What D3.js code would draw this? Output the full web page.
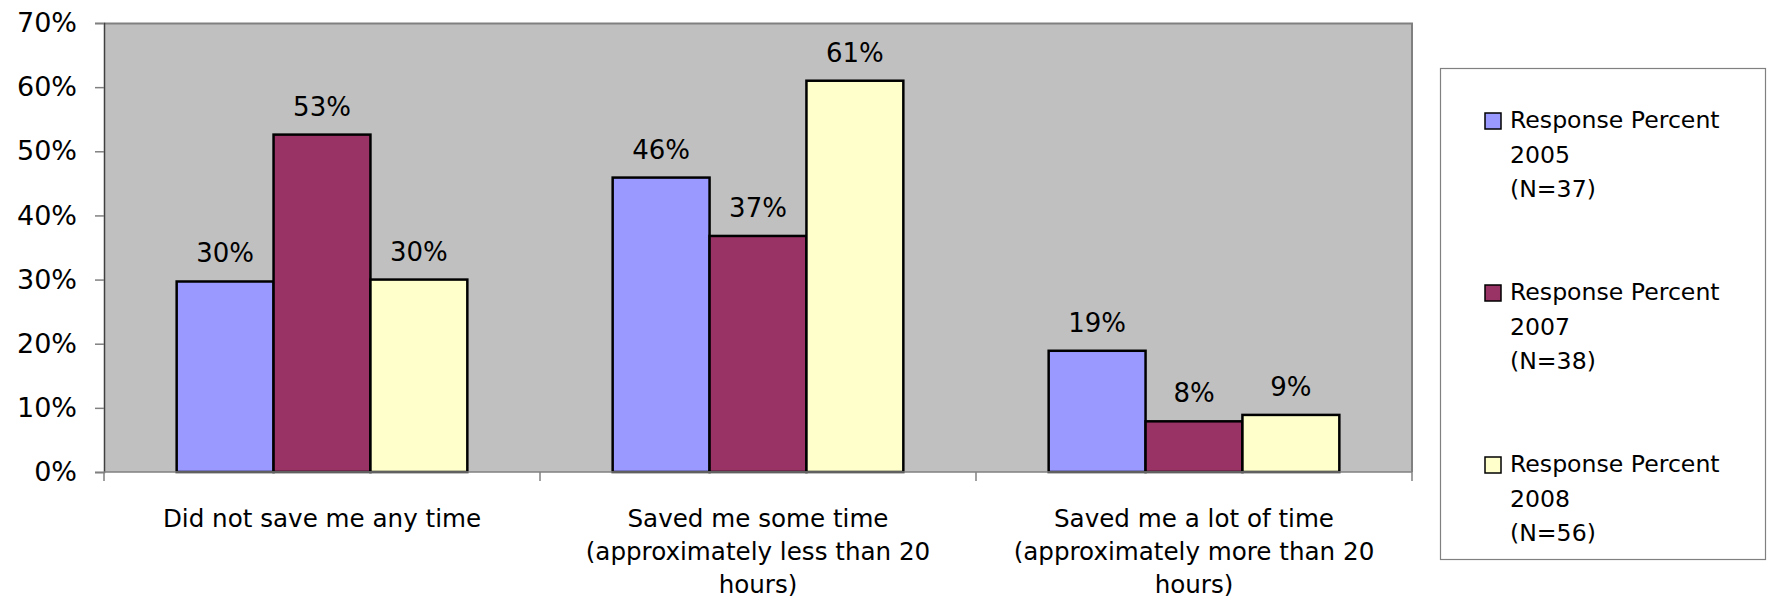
<!DOCTYPE html>
<html>
<head>
<meta charset="utf-8">
<script src="https://cdn.jsdelivr.net/npm/d3@7"></script>
<style>
  html, body { margin: 0; padding: 0; background: #ffffff; }
  svg { display: block; }
  text { font-family: "DejaVu Sans", sans-serif; fill: #000; }
</style>
</head>
<body>
<svg id="chart" width="1767" height="600"></svg>
<script>
// Category labels, one entry per line as they wrap under the axis
const categories = [
  ["Did not save me any time"],
  ["Saved me some time", "(approximately less than 20", "hours)"],
  ["Saved me a lot of time", "(approximately more than 20", "hours)"]
];

// Series names (legend lines) and colours
const seriesNames = [
  ["Response Percent", "2005", "(N=37)"],
  ["Response Percent", "2007", "(N=38)"],
  ["Response Percent", "2008", "(N=56)"]
];
const seriesColors = ["#9999FF", "#993366", "#FFFFCC"];

// Response shares per category, one array per survey year
const values2005 = [0.297, 0.459, 0.189];
const values2007 = [0.526, 0.368, 0.079];
const values2008 = [0.300, 0.610, 0.089];
const seriesValues = [values2005, values2007, values2008];

// Y axis tick values
const yTicks = [0, 0.1, 0.2, 0.3, 0.4, 0.5, 0.6, 0.7];

const svg = d3.select("#chart");
const plot = { left: 104, right: 1412, top: 23, bottom: 472 };

const y = d3.scaleLinear().domain([0, 0.7]).range([plot.bottom, plot.top]);
const x0 = d3.scaleBand()
  .domain(d3.range(categories.length))
  .range([plot.left, plot.right])
  .paddingInner(0).paddingOuter(0);
const bw = x0.bandwidth();
const x1 = d3.scaleBand()
  .domain(d3.range(seriesValues.length))
  .range([bw / 6, bw * 5 / 6])
  .padding(0);

const pct = d3.format(".0%");

// Plot area background
svg.append("rect")
  .attr("x", plot.left).attr("y", plot.top)
  .attr("width", plot.right - plot.left)
  .attr("height", plot.bottom - plot.top)
  .attr("fill", "#C0C0C0");
// Top and right border of the plot area
svg.append("path")
  .attr("d", `M${plot.left},${plot.top + 0.5}H${plot.right}V${plot.bottom}`)
  .attr("fill", "none").attr("stroke", "#808080").attr("stroke-width", 2);

// Y axis
const yAxis = svg.append("g")
  .attr("transform", `translate(${plot.left},0)`)
  .call(d3.axisLeft(y).tickValues(yTicks).tickFormat(pct).tickSize(9).tickPadding(18));
yAxis.select(".domain").attr("stroke", "#404040").attr("stroke-width", 1.5);
yAxis.selectAll(".tick line").attr("stroke", "#808080").attr("stroke-width", 1.5);
yAxis.selectAll(".tick text")
  .attr("font-family", "DejaVu Sans, sans-serif")
  .attr("font-size", 27)
  .attr("fill", "#000");

// Bars
const groups = svg.append("g").selectAll("g")
  .data(categories.map((c, i) => i))
  .join("g")
  .attr("transform", i => `translate(${x0(i)},0)`);

groups.selectAll("rect")
  .data(i => seriesValues.map((vals, s) => ({ s, v: vals[i] })))
  .join("rect")
  .attr("x", d => x1(d.s))
  .attr("y", d => y(d.v))
  .attr("width", x1.bandwidth())
  .attr("height", d => y(0) - y(d.v))
  .attr("fill", d => seriesColors[d.s])
  .attr("stroke", "#000")
  .attr("stroke-width", 2.5);

// Value labels above bars
groups.selectAll("text.val")
  .data(i => seriesValues.map((vals, s) => ({ s, v: vals[i] })))
  .join("text")
  .attr("class", "val")
  .attr("x", d => x1(d.s) + x1.bandwidth() / 2)
  .attr("y", d => y(d.v) - 19)
  .attr("text-anchor", "middle")
  .attr("font-size", 26)
  .text(d => pct(d.v));

// X axis line and category boundary ticks
svg.append("line")
  .attr("x1", plot.left).attr("x2", plot.right)
  .attr("y1", plot.bottom).attr("y2", plot.bottom)
  .attr("stroke", "#808080").attr("stroke-width", 1.5);
const bounds = d3.range(categories.length).map(i => x0(i)).concat([plot.right]);
svg.append("g").selectAll("line")
  .data(bounds)
  .join("line")
  .attr("x1", d => d).attr("x2", d => d)
  .attr("y1", plot.bottom).attr("y2", plot.bottom + 9)
  .attr("stroke", "#808080").attr("stroke-width", 1.5);

// Category labels
const catLabels = svg.append("g").selectAll("text")
  .data(categories)
  .join("text")
  .attr("x", (d, i) => x0(i) + bw / 2)
  .attr("y", 527)
  .attr("text-anchor", "middle")
  .attr("font-size", 24.6);
catLabels.selectAll("tspan")
  .data(d => d)
  .join("tspan")
  .attr("x", function () { return d3.select(this.parentNode).attr("x"); })
  .attr("dy", (d, j) => j === 0 ? 0 : 33)
  .text(d => d);

// Legend
const legend = svg.append("g");
legend.append("rect")
  .attr("x", 1440.5).attr("y", 68.5)
  .attr("width", 325).attr("height", 491)
  .attr("fill", "#fff").attr("stroke", "#808080").attr("stroke-width", 1.2);

const entry = legend.selectAll("g.entry")
  .data(seriesNames)
  .join("g")
  .attr("class", "entry")
  .attr("transform", (d, i) => `translate(0,${128 + i * 172})`);
entry.append("rect")
  .attr("x", 1485).attr("y", -15)
  .attr("width", 16).attr("height", 16)
  .attr("fill", (d, i) => seriesColors[i])
  .attr("stroke", "#000").attr("stroke-width", 1.5);
const et = entry.append("text")
  .attr("x", 1510).attr("y", 0)
  .attr("font-size", 23.6);
et.selectAll("tspan")
  .data(d => d)
  .join("tspan")
  .attr("x", 1510)
  .attr("dy", (d, j) => j === 0 ? 0 : 34.5)
  .text(d => d);
</script>
</body>
</html>
